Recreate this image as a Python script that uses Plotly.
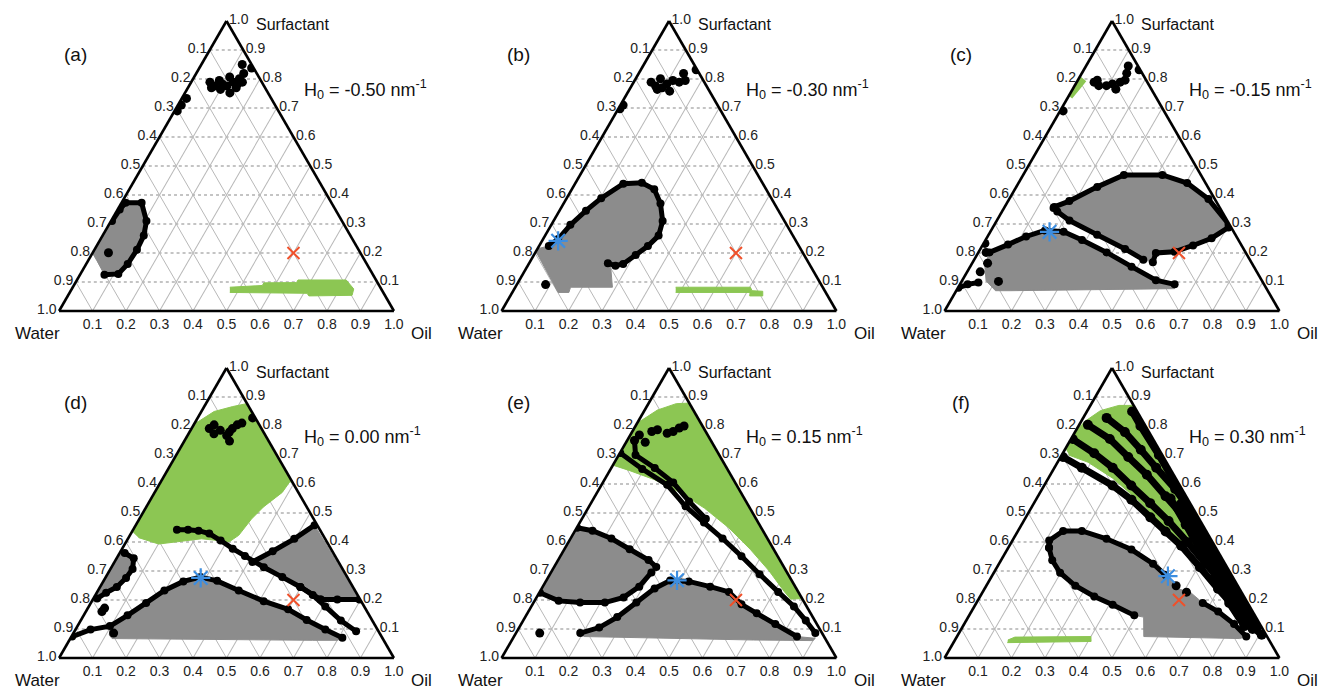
import math
import plotly.graph_objects as go

# ---------------- data: points are (oil, surfactant); water = 1 - oil - surfactant
TICK_VALS = [0.0, 0.1, 0.2, 0.3, 0.4, 0.5, 0.6, 0.7, 0.8, 0.9]
TICK_TEXT = ["1.0", "0.9", "0.8", "0.7", "0.6", "0.5", "0.4", "0.3", "0.2", "0.1"]
PANEL_LETTERS = ["(a)", "(b)", "(c)", "(d)", "(e)", "(f)"]
H0_VALUES = ["-0.50", "-0.30", "-0.15", "0.00", "0.15", "0.30"]
RED_X = (0.6, 0.2)

# (a)
A_TOP = [(0.056, 0.789), (0.076, 0.776), (0.081, 0.795), (0.096, 0.783), (0.106, 0.807), (0.125, 0.789),
         (0.138, 0.801), (0.153, 0.789), (0.142, 0.819), (0.07, 0.77), (0.1, 0.764), (0.134, 0.752),
         (0.144, 0.77), (0.156, 0.838), (0.122, 0.85), (0.113, 0.776), (0.142, 0.783)]
A_DOTS = [(0.014, 0.733), (0.01, 0.71), (0.008, 0.69), (0.047, 0.201)]
A_GRAY = [(0.0, 0.373), (0.06, 0.373), (0.106, 0.31), (0.123, 0.26), (0.127, 0.211), (0.124, 0.162),
          (0.113, 0.128), (0.073, 0.125), (0.026, 0.174), (0.0, 0.2)]
A_CHAIN = [(0.003, 0.31), (0.006, 0.35), (0.012, 0.373), (0.06, 0.373), (0.106, 0.31), (0.123, 0.26),
           (0.127, 0.211), (0.124, 0.162), (0.113, 0.128), (0.073, 0.125)]
A_GREEN = [(0.469, 0.082), (0.563, 0.088), (0.563, 0.097), (0.66, 0.098), (0.66, 0.107), (0.804, 0.107),
           (0.842, 0.076), (0.848, 0.054), (0.72, 0.052), (0.71, 0.061), (0.478, 0.064)]

# (b)
B_TOP = [(0.052, 0.789), (0.072, 0.776), (0.074, 0.801), (0.102, 0.783), (0.114, 0.795), (0.136, 0.789),
         (0.151, 0.795), (0.134, 0.819), (0.123, 0.758), (0.083, 0.764), (0.165, 0.832), (0.095, 0.77)]
B_DOTS = [(0.005, 0.697), (0.008, 0.71), (0.086, 0.091)]
B_GRAY = [(0.0, 0.215), (0.029, 0.224), (0.045, 0.248), (0.057, 0.297), (0.079, 0.346), (0.103, 0.389),
          (0.144, 0.439), (0.198, 0.442), (0.246, 0.42), (0.289, 0.371), (0.326, 0.31), (0.339, 0.26),
          (0.325, 0.224), (0.304, 0.193), (0.282, 0.162), (0.262, 0.156), (0.235, 0.165), (0.251, 0.15),
          (0.29, 0.082), (0.165, 0.082), (0.169, 0.064), (0.137, 0.064), (0.006, 0.199)]
B_CHAIN = [(0.029, 0.224), (0.045, 0.248), (0.057, 0.297), (0.079, 0.346), (0.103, 0.389), (0.144, 0.439),
           (0.198, 0.442), (0.246, 0.42), (0.289, 0.371), (0.326, 0.31), (0.339, 0.26), (0.325, 0.224),
           (0.304, 0.193), (0.282, 0.162), (0.262, 0.156), (0.235, 0.165)]
B_STAR = (0.048, 0.242)
B_GREEN = [(0.479, 0.082), (0.702, 0.082), (0.713, 0.07), (0.746, 0.068), (0.754, 0.052), (0.715, 0.052),
           (0.71, 0.064), (0.488, 0.064)]

# (c)
C_TOP = [(0.052, 0.789), (0.072, 0.777), (0.095, 0.777), (0.11, 0.783), (0.129, 0.765), (0.13, 0.789),
         (0.141, 0.796), (0.134, 0.82), (0.126, 0.845), (0.165, 0.832), (0.058, 0.796)]
C_DOTS = [(0.009, 0.69), (0.004, 0.233), (0.023, 0.202), (0.046, 0.165), (0.039, 0.135), (0.11, 0.102)]
C_GREEN_LINE = [(0.003, 0.74), (0.009, 0.77), (0.015, 0.80)]
C_GRAY1 = [(0.148, 0.359), (0.183, 0.379), (0.242, 0.428), (0.301, 0.469), (0.416, 0.469), (0.504, 0.441),
           (0.595, 0.386), (0.698, 0.30), (0.704, 0.288), (0.672, 0.251), (0.629, 0.226), (0.585, 0.204),
           (0.531, 0.2), (0.538, 0.168), (0.505, 0.177), (0.432, 0.214), (0.324, 0.263), (0.217, 0.312),
           (0.165, 0.343)]
C_CHAIN1 = [(0.148, 0.359), (0.183, 0.379), (0.242, 0.428), (0.301, 0.469), (0.416, 0.469), (0.504, 0.441),
            (0.595, 0.386), (0.698, 0.30)]
C_CHAIN2 = [(0.704, 0.288), (0.672, 0.251), (0.629, 0.226), (0.585, 0.204), (0.531, 0.2), (0.538, 0.168)]
C_CHAIN3 = [(0.148, 0.355), (0.165, 0.343), (0.217, 0.312), (0.324, 0.263), (0.432, 0.214), (0.505, 0.177)]
C_GRAY2 = [(0.033, 0.202), (0.075, 0.229), (0.115, 0.257), (0.161, 0.278), (0.219, 0.273), (0.288, 0.245),
           (0.383, 0.202), (0.482, 0.153), (0.578, 0.106), (0.641, 0.092), (0.648, 0.077), (0.163, 0.07),
           (0.117, 0.07), (0.072, 0.104), (0.037, 0.165)]
C_CHAIN4 = [(0.033, 0.202), (0.075, 0.229), (0.115, 0.257), (0.161, 0.278), (0.219, 0.273), (0.288, 0.245),
            (0.383, 0.202), (0.482, 0.153), (0.578, 0.106), (0.641, 0.092)]
C_CHAIN5 = [(0.001, 0.08), (0.023, 0.092), (0.052, 0.098)]
C_STAR = (0.177, 0.273)

# (d)
D_GREEN = [(0.0, 0.436), (0.0, 0.81), (0.009, 0.816), (0.038, 0.85), (0.085, 0.867), (0.121, 0.877),
           (0.393, 0.607), (0.385, 0.607), (0.381, 0.571), (0.35, 0.521), (0.335, 0.479), (0.325, 0.423),
           (0.308, 0.401), (0.22, 0.411), (0.101, 0.393), (0.03, 0.415)]
D_TOP = [(0.053, 0.791), (0.061, 0.804), (0.089, 0.785), (0.117, 0.767), (0.119, 0.779), (0.122, 0.791),
         (0.13, 0.804), (0.141, 0.81), (0.135, 0.748), (0.076, 0.773), (0.164, 0.828)]
D_CHAIN_MID = [(0.131, 0.442), (0.164, 0.442), (0.197, 0.439), (0.234, 0.429), (0.28, 0.405), (0.33, 0.377),
               (0.379, 0.352), (0.455, 0.313), (0.527, 0.279), (0.598, 0.245), (0.68, 0.202)]
D_CHAIN_RT = [(0.412, 0.331), (0.454, 0.368), (0.497, 0.411), (0.534, 0.458)]
D_CHAIN_H = [(0.68, 0.202), (0.73, 0.202), (0.796, 0.202)]
D_GRAY_R = [(0.412, 0.331), (0.454, 0.368), (0.497, 0.411), (0.534, 0.458), (0.796, 0.202), (0.68, 0.202),
            (0.598, 0.245), (0.527, 0.279), (0.455, 0.313)]
D_CHAIN_LOW = [(0.598, 0.245), (0.649, 0.217), (0.706, 0.178), (0.777, 0.129), (0.841, 0.092)]
D_GRAY_B = [(0.097, 0.104), (0.131, 0.147), (0.165, 0.19), (0.198, 0.233), (0.239, 0.264), (0.283, 0.279),
            (0.339, 0.266), (0.42, 0.233), (0.513, 0.196), (0.6, 0.168), (0.674, 0.131), (0.746, 0.098),
            (0.811, 0.07), (0.801, 0.061), (0.727, 0.061), (0.125, 0.067), (0.109, 0.08)]
D_CHAIN_B = [(0.002, 0.074), (0.045, 0.098), (0.097, 0.11), (0.131, 0.147), (0.165, 0.19), (0.198, 0.233),
             (0.239, 0.264), (0.283, 0.279), (0.339, 0.266), (0.42, 0.233), (0.513, 0.196), (0.6, 0.168),
             (0.674, 0.131), (0.746, 0.098), (0.811, 0.07)]
D_GRAY_L = [(0.0, 0.362), (0.015, 0.362), (0.051, 0.344), (0.066, 0.307), (0.062, 0.276), (0.05, 0.245),
            (0.028, 0.225), (0.011, 0.205), (0.0, 0.205)]
D_CHAIN_L = [(0.015, 0.362), (0.051, 0.344), (0.066, 0.307), (0.062, 0.276), (0.05, 0.245), (0.028, 0.225),
             (0.011, 0.205)]
D_DOTS = [(0.05, 0.172), (0.048, 0.16), (0.12, 0.086)]
D_STAR = (0.285, 0.276)

# (e)
E_GREEN = [(0.0, 0.818), (0.007, 0.818), (0.038, 0.855), (0.083, 0.877), (0.121, 0.879), (0.795, 0.205),
           (0.762, 0.203), (0.731, 0.228), (0.648, 0.301), (0.555, 0.375), (0.454, 0.449), (0.347, 0.517),
           (0.245, 0.572), (0.149, 0.615), (0.06, 0.646), (0.0, 0.665)]
E_TOP = [(0.022, 0.75), (0.027, 0.769), (0.057, 0.744), (0.058, 0.781), (0.072, 0.787), (0.107, 0.775),
         (0.122, 0.781), (0.134, 0.793), (0.145, 0.8)]
E_CHAIN1 = [(0.001, 0.707), (0.094, 0.652), (0.196, 0.597), (0.288, 0.523), (0.371, 0.467), (0.454, 0.412),
            (0.541, 0.351), (0.626, 0.289), (0.712, 0.228), (0.784, 0.178), (0.844, 0.129), (0.894, 0.086)]
E_CHAIN2 = [(0.022, 0.75), (0.05, 0.70), (0.13, 0.655), (0.21, 0.605), (0.29, 0.54), (0.37, 0.48)]
E_GRAY_L = [(0.0, 0.449), (0.052, 0.439), (0.122, 0.412), (0.195, 0.375), (0.27, 0.338), (0.305, 0.314),
            (0.3, 0.295), (0.288, 0.246), (0.26, 0.209), (0.213, 0.191), (0.139, 0.191), (0.072, 0.197),
            (0.0, 0.225)]
E_CHAIN_L1 = [(0.001, 0.449), (0.052, 0.439), (0.122, 0.412), (0.195, 0.375), (0.27, 0.338), (0.305, 0.314)]
E_CHAIN_L2 = [(0.002, 0.225), (0.072, 0.197), (0.139, 0.191), (0.213, 0.191), (0.26, 0.209), (0.288, 0.246),
              (0.3, 0.295)]
E_GRAY_B = [(0.192, 0.086), (0.239, 0.105), (0.275, 0.141), (0.307, 0.191), (0.337, 0.24), (0.37, 0.267),
            (0.427, 0.264), (0.5, 0.246), (0.565, 0.228), (0.624, 0.185), (0.685, 0.154), (0.759, 0.117),
            (0.845, 0.074), (0.903, 0.068), (0.9, 0.06), (0.722, 0.062), (0.208, 0.074)]
E_CHAIN_B = [(0.192, 0.086), (0.239, 0.105), (0.275, 0.141), (0.307, 0.191), (0.337, 0.24), (0.37, 0.267),
             (0.427, 0.264), (0.5, 0.246), (0.565, 0.228), (0.624, 0.185), (0.685, 0.154), (0.759, 0.117),
             (0.845, 0.074)]
E_DOTS = [(0.071, 0.086)]
E_STAR = (0.39, 0.268)

# (f)
F_GREEN = [(0.004, 0.718), (0.001, 0.779), (0.011, 0.816), (0.039, 0.853), (0.085, 0.871), (0.129, 0.871),
           (0.61, 0.39), (0.522, 0.387), (0.421, 0.46), (0.303, 0.546), (0.192, 0.62), (0.091, 0.675),
           (0.023, 0.699)]
F_GREEN2 = [(0.158, 0.062), (0.174, 0.072), (0.4, 0.074), (0.409, 0.057), (0.161, 0.053)]
F_CHAIN1 = [(0.007, 0.693), (0.082, 0.656), (0.204, 0.595), (0.285, 0.546), (0.372, 0.485), (0.442, 0.436),
            (0.513, 0.387), (0.606, 0.313), (0.697, 0.239), (0.775, 0.178), (0.852, 0.117), (0.907, 0.08)]
F_CHAIN2 = [(0.005, 0.755), (0.094, 0.706), (0.174, 0.656), (0.26, 0.595), (0.347, 0.534), (0.433, 0.472),
            (0.526, 0.399), (0.617, 0.325), (0.71, 0.252), (0.793, 0.178), (0.877, 0.104)]
F_CHAIN3 = [(0.026, 0.804), (0.116, 0.755), (0.202, 0.693), (0.288, 0.632), (0.381, 0.558), (0.473, 0.485),
            (0.572, 0.399), (0.654, 0.325), (0.744, 0.239), (0.833, 0.153)]
F_CHAIN4 = [(0.07, 0.828), (0.149, 0.779), (0.227, 0.718), (0.304, 0.656), (0.397, 0.583), (0.479, 0.509),
            (0.562, 0.436), (0.652, 0.35), (0.741, 0.264), (0.83, 0.178)]
F_CHAIN5 = [(0.135, 0.85), (0.185, 0.80), (0.29, 0.70), (0.39, 0.60), (0.49, 0.50), (0.59, 0.40),
            (0.69, 0.30), (0.79, 0.20), (0.88, 0.105)]
F_CHAIN6 = [(0.40, 0.55), (0.49, 0.46), (0.58, 0.37), (0.67, 0.28), (0.755, 0.19), (0.84, 0.11)]
F_CHAIN7 = [(0.44, 0.53), (0.53, 0.44), (0.62, 0.35), (0.71, 0.26), (0.795, 0.175), (0.87, 0.10)]
F_GRAY = [(0.11, 0.405), (0.135, 0.438), (0.191, 0.438), (0.278, 0.411), (0.371, 0.374), (0.46, 0.325),
          (0.517, 0.286), (0.577, 0.239), (0.62, 0.227), (0.676, 0.19), (0.737, 0.16), (0.806, 0.117),
          (0.864, 0.074), (0.848, 0.067), (0.558, 0.074), (0.524, 0.141), (0.493, 0.147), (0.41, 0.184),
          (0.341, 0.212), (0.266, 0.249), (0.198, 0.294), (0.153, 0.337), (0.122, 0.38)]
F_CHAIN_T = [(0.122, 0.38), (0.11, 0.405), (0.135, 0.438), (0.191, 0.438), (0.278, 0.411), (0.371, 0.374),
             (0.46, 0.325), (0.517, 0.286)]
F_CHAIN_B = [(0.122, 0.38), (0.153, 0.337), (0.198, 0.294), (0.266, 0.249), (0.341, 0.212), (0.41, 0.184),
             (0.493, 0.147)]
F_CHAIN_R = [(0.676, 0.19), (0.737, 0.16), (0.806, 0.117), (0.864, 0.074)]
F_DOTS = [(0.567, 0.249), (0.609, 0.227)]
F_STAR = (0.526, 0.282)

PANELS = [
    dict(green=[A_GREEN], gline=[], gray=[A_GRAY], chains=[A_CHAIN], dense=[], dots=A_TOP + A_DOTS, star=None),
    dict(green=[B_GREEN], gline=[], gray=[B_GRAY], chains=[B_CHAIN], dense=[], dots=B_TOP + B_DOTS, star=B_STAR),
    dict(green=[], gline=[C_GREEN_LINE], gray=[C_GRAY1, C_GRAY2],
         chains=[C_CHAIN1, C_CHAIN2, C_CHAIN3, C_CHAIN4, C_CHAIN5], dense=[], dots=C_TOP + C_DOTS, star=C_STAR),
    dict(green=[D_GREEN], gline=[], gray=[D_GRAY_R, D_GRAY_B, D_GRAY_L],
         chains=[D_CHAIN_MID, D_CHAIN_RT, D_CHAIN_H, D_CHAIN_LOW, D_CHAIN_B, D_CHAIN_L], dense=[],
         dots=D_TOP + D_DOTS, star=D_STAR),
    dict(green=[E_GREEN], gline=[], gray=[E_GRAY_L, E_GRAY_B],
         chains=[E_CHAIN1, E_CHAIN2, E_CHAIN_L1, E_CHAIN_L2, E_CHAIN_B], dense=[], dots=E_TOP + E_DOTS,
         star=E_STAR),
    dict(green=[F_GREEN, F_GREEN2], gline=[], gray=[F_GRAY],
         chains=[F_CHAIN_T, F_CHAIN_B, F_CHAIN_R],
         dense=[F_CHAIN1, F_CHAIN2, F_CHAIN3, F_CHAIN4, F_CHAIN5, F_CHAIN6, F_CHAIN7],
         dots=F_DOTS, star=F_STAR),
]

# ---------------- style / layout
FIG_W, FIG_H = 1321, 693
TRI_H = 290.0
TRI_W = TRI_H * 2 / math.sqrt(3)
COL_CX = [226.5, 669.0, 1112.0]
BASE_Y = [311.0, 658.0]          # bottom edge of triangles (px from top)
REF_CY = [175.0, 522.5]          # reference row centres for text placement
GRAY = "#8c8c8c"
GREEN = "#8cc653"
FONT = "Liberation Sans, Arial, Helvetica, sans-serif"


def abc(pts):
    oil = [p[0] for p in pts]
    surf = [p[1] for p in pts]
    water = [max(0.0, 1.0 - p[0] - p[1]) for p in pts]
    return surf, water, oil


def P(px, py):
    return px / FIG_W, 1 - py / FIG_H


fig = go.Figure()
annotations = []

for i, pan in enumerate(PANELS):
    key = "ternary" if i == 0 else f"ternary{i + 1}"
    sub = key
    cx = COL_CX[i % 3]
    base = BASE_Y[i // 3]
    cy = REF_CY[i // 3]

    for poly in pan["green"]:
        a, b, c = abc(poly)
        fig.add_trace(go.Scatterternary(a=a, b=b, c=c, mode="lines", fill="toself", fillcolor=GREEN,
                                        line=dict(color=GREEN, width=1), subplot=sub, hoverinfo="skip"))
    for ln in pan["gline"]:
        a, b, c = abc(ln)
        fig.add_trace(go.Scatterternary(a=a, b=b, c=c, mode="lines", line=dict(color=GREEN, width=7),
                                        subplot=sub, hoverinfo="skip"))
    for poly in pan["gray"]:
        a, b, c = abc(poly)
        fig.add_trace(go.Scatterternary(a=a, b=b, c=c, mode="lines", fill="toself", fillcolor=GRAY,
                                        line=dict(color=GRAY, width=1), subplot=sub, hoverinfo="skip"))
    for ch in pan["dense"]:
        a, b, c = abc(ch)
        fig.add_trace(go.Scatterternary(a=a, b=b, c=c, mode="lines+markers",
                                        line=dict(color="black", width=7),
                                        marker=dict(color="black", size=10), subplot=sub, hoverinfo="skip"))
    for ch in pan["chains"]:
        a, b, c = abc(ch)
        fig.add_trace(go.Scatterternary(a=a, b=b, c=c, mode="lines+markers",
                                        line=dict(color="black", width=5),
                                        marker=dict(color="black", size=8), subplot=sub, hoverinfo="skip"))
    if pan["dots"]:
        a, b, c = abc(pan["dots"])
        fig.add_trace(go.Scatterternary(a=a, b=b, c=c, mode="markers",
                                        marker=dict(color="black", size=9), subplot=sub, hoverinfo="skip"))
    a, b, c = abc([RED_X])
    fig.add_trace(go.Scatterternary(a=a, b=b, c=c, mode="markers",
                                    marker=dict(symbol="x-thin-open", size=12, color="#f0502a",
                                                line=dict(color="#f0502a", width=2)),
                                    subplot=sub, hoverinfo="skip"))
    if pan["star"] is not None:
        a, b, c = abc([pan["star"]])
        fig.add_trace(go.Scatterternary(a=a, b=b, c=c, mode="markers",
                                        marker=dict(symbol="asterisk-open", size=16, color="#3d8ee0",
                                                    line=dict(color="#3d8ee0", width=2.2)),
                                        subplot=sub, hoverinfo="skip"))

    x0 = (cx - TRI_W / 2) / FIG_W
    x1 = (cx + TRI_W / 2) / FIG_W
    y0 = 1 - base / FIG_H
    y1 = 1 - (base - TRI_H) / FIG_H

    def ax(dash, gcol, gw):
        return dict(tickmode="array", tickvals=TICK_VALS, ticktext=TICK_TEXT, ticks="",
                    showgrid=True, gridcolor=gcol, griddash=dash, gridwidth=gw,
                    showline=True, linecolor="black", linewidth=2.6, min=0,
                    tickfont=dict(family=FONT, size=14, color="#222222"), title=dict(text=""))

    fig.update_layout(**{key: dict(
        domain=dict(x=[x0, x1], y=[y0, y1]), sum=1, bgcolor="white",
        aaxis=ax("dot", "#8a8a8a", 0.9),
        baxis=ax("solid", "#b8b8b8", 0.7),
        caxis=ax("solid", "#b8b8b8", 0.7),
    )})

    lx, ly = P(cx - 151, cy - 120)
    annotations.append(dict(x=lx, y=ly, text=PANEL_LETTERS[i], showarrow=False, xanchor="center",
                            yanchor="middle", font=dict(family=FONT, size=19, color="#111")))
    hx, hy = P(cx + 75, cy - 86)
    annotations.append(dict(x=hx, y=hy, text=f"H<sub>0</sub> = {H0_VALUES[i]} nm<sup>-1</sup>",
                            showarrow=False, xanchor="left", yanchor="middle",
                            font=dict(family=FONT, size=18, color="#111")))
    sx, sy = P(cx + 27, cy - 150)
    annotations.append(dict(x=sx, y=sy, text="Surfactant", showarrow=False, xanchor="left",
                            yanchor="middle", font=dict(family=FONT, size=16, color="#111")))
    wx, wy = P(cx - 189, cy + 158)
    annotations.append(dict(x=wx, y=wy, text="Water", showarrow=False, xanchor="center",
                            yanchor="middle", font=dict(family=FONT, size=17, color="#111")))
    ox, oy = P(min(cx + 195, FIG_W - 13), cy + 158)
    annotations.append(dict(x=ox, y=oy, text="Oil", showarrow=False, xanchor="center",
                            yanchor="middle", font=dict(family=FONT, size=17, color="#111")))

fig.update_layout(width=FIG_W, height=FIG_H, autosize=False, showlegend=False,
                  margin=dict(l=0, r=0, t=0, b=0), paper_bgcolor="white",
                  annotations=annotations, font=dict(family=FONT))

fig.write_html("out.html", config={"displayModeBar": False},
               post_script="document.body.style.margin='0px';")
